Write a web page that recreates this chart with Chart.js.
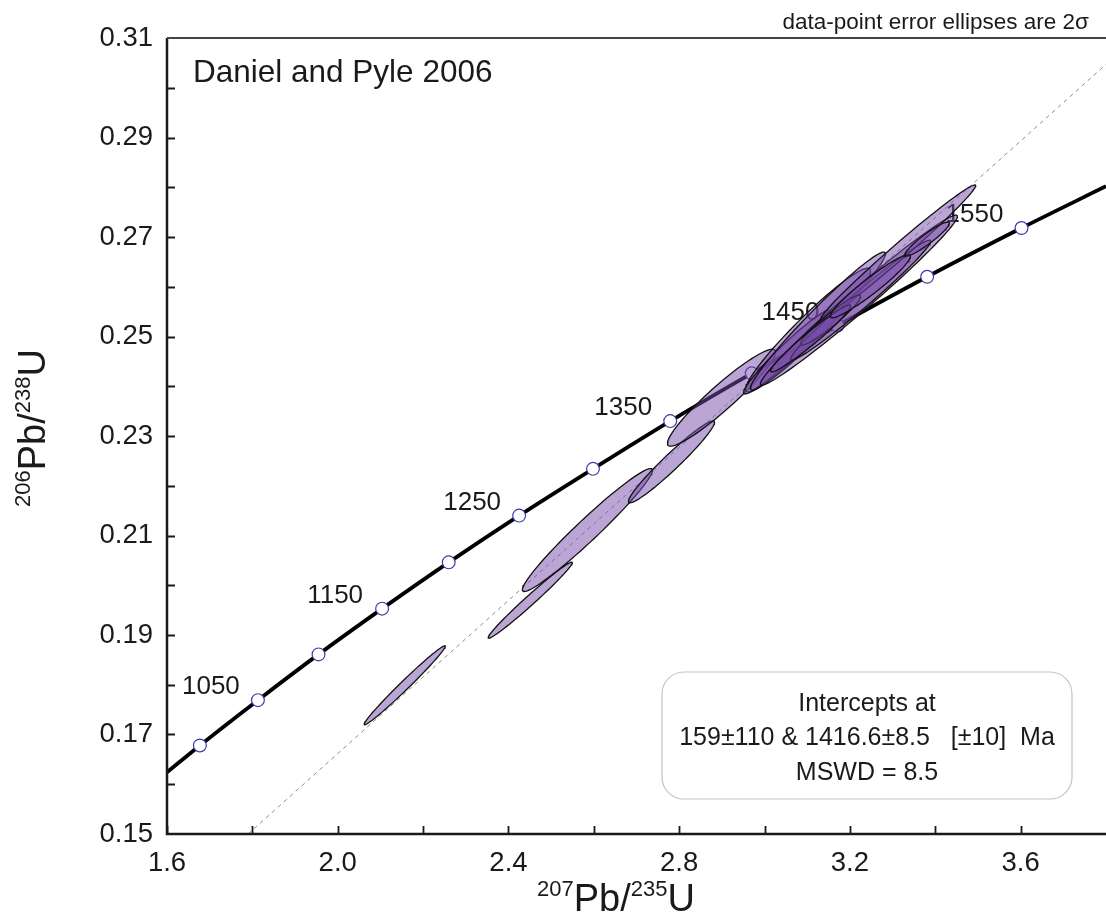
<!DOCTYPE html>
<html><head><meta charset="utf-8">
<script src="https://cdn.jsdelivr.net/npm/chart.js@4.4.1/dist/chart.umd.min.js"></script>
<style>html,body{margin:0;padding:0;background:#fff;overflow:hidden;}canvas{display:block;}</style>
</head><body>
<canvas id="c" width="1106" height="915"></canvas>
<script>
// ---------- data ----------
const xTickValues = [1.6, 2.0, 2.4, 2.8, 3.2, 3.6];
const xTickLabels = ['1.6', '2.0', '2.4', '2.8', '3.2', '3.6'];
const xMinorValues = [1.8, 2.2, 2.6, 3.0, 3.4, 3.8];
const yTickValues = [0.15, 0.17, 0.19, 0.21, 0.23, 0.25, 0.27, 0.29, 0.31];
const yTickLabels = ['0.15', '0.17', '0.19', '0.21', '0.23', '0.25', '0.27', '0.29', '0.31'];
const yMinorValues = [0.16, 0.18, 0.20, 0.22, 0.24, 0.26, 0.28, 0.30];

// concordia curve
const concX = [1.600, 1.677, 1.813, 1.955, 2.104, 2.260, 2.425, 2.598, 2.779, 2.970, 3.171, 3.381, 3.602, 3.800];
const concY = [0.1624, 0.1678, 0.1769, 0.1861, 0.1953, 0.2046, 0.2140, 0.2234, 0.2330, 0.2426, 0.2522, 0.2620, 0.2718, 0.2802];

// age markers on the concordia
const markerAges = [1000, 1050, 1100, 1150, 1200, 1250, 1300, 1350, 1400, 1450, 1500, 1550];
const markerX = [1.677, 1.813, 1.955, 2.104, 2.260, 2.425, 2.598, 2.779, 2.970, 3.171, 3.381, 3.602];
const markerY = [0.1678, 0.1769, 0.1861, 0.1953, 0.2046, 0.2140, 0.2234, 0.2330, 0.2426, 0.2522, 0.2620, 0.2718];
const labelledAges = [1050, 1150, 1250, 1350, 1450, 1550];

// discordia (regression line)
const discX = [1.79, 3.80];
const discY = [0.150, 0.3047];

// data-point error ellipses: centre, 2-sigma half-extents, correlation
const ellCX  = [2.157, 2.451, 2.585, 2.782, 2.899, 3.102, 3.053, 3.125, 3.221, 3.225, 3.313, 3.155, 3.108, 3.248, 3.381];
const ellCY  = [0.1799, 0.1970, 0.2111, 0.2248, 0.2377, 0.2513, 0.2469, 0.2531, 0.2573, 0.2573, 0.2669, 0.2533, 0.2496, 0.2601, 0.2696];
const ellEX  = [0.095, 0.0985, 0.1524, 0.1008, 0.1266, 0.1465, 0.102, 0.1583, 0.2309, 0.1641, 0.1817, 0.0703, 0.0938, 0.0938, 0.052];
const ellEY  = [0.00794, 0.00764, 0.01236, 0.00824, 0.00975, 0.01246, 0.00844, 0.01387, 0.01709, 0.01206, 0.01357, 0.00503, 0.00673, 0.00633, 0.00342];
const ellRho = [0.988, 0.986, 0.971, 0.965, 0.942, 0.957, 0.966, 0.975, 0.985, 0.983, 0.989, 0.95, 0.97, 0.95, 0.93];

const titleText = 'Daniel and Pyle 2006';
const noteText = 'data-point error ellipses are 2σ';
const boxLines = ['Intercepts at', '159±110 & 1416.6±8.5   [±10]  Ma', 'MSWD = 8.5'];

// ---------- chart ----------
const FONT = '"Liberation Sans", Arial, Helvetica, sans-serif';

function ellipsePoints(i) {
  const pts = [];
  const n = 90;
  const s = Math.sqrt(1 - ellRho[i] * ellRho[i]);
  for (let k = 0; k <= n; k++) {
    const t = 2 * Math.PI * k / n;
    pts.push({ x: ellCX[i] + ellEX[i] * Math.cos(t),
               y: ellCY[i] + ellEY[i] * (ellRho[i] * Math.cos(t) + s * Math.sin(t)) });
  }
  return pts;
}

const datasets = [];
datasets.push({ type: 'line', label: 'discordia',
  data: discX.map((x, i) => ({ x, y: discY[i] })),
  borderColor: '#8c8c8c', borderWidth: 1, borderDash: [4, 4], pointRadius: 0, fill: false, order: 100 });
datasets.push({ type: 'line', label: 'concordia',
  data: concX.map((x, i) => ({ x, y: concY[i] })),
  borderColor: '#000', borderWidth: 3.8, pointRadius: 0, cubicInterpolationMode: 'monotone', fill: false, order: 90 });
datasets.push({ type: 'scatter', label: 'ages',
  data: markerX.map((x, i) => ({ x, y: markerY[i] })),
  pointRadius: 6.4, pointBackgroundColor: '#fff', pointBorderColor: '#3c3cae', pointBorderWidth: 1.2, order: 80 });
for (let i = 0; i < ellCX.length; i++) {
  datasets.push({ type: 'line', label: 'ellipse' + i, data: ellipsePoints(i),
    borderColor: '#111', borderWidth: 1.3, backgroundColor: 'rgba(120,76,172,0.5)',
    fill: 'shape', pointRadius: 0, tension: 0, order: 50 - i });
}

function drawRich(ctx, parts, cx, baseY) {
  let w = 0;
  parts.forEach(p => { ctx.font = p.size + 'px ' + FONT; p.w = ctx.measureText(p.t).width; w += p.w; });
  let x = cx - w / 2;
  ctx.textAlign = 'left'; ctx.textBaseline = 'alphabetic';
  parts.forEach(p => { ctx.font = p.size + 'px ' + FONT; ctx.fillText(p.t, x, baseY - (p.up || 0)); x += p.w; });
}

const decor = {
  id: 'decor',
  beforeDatasetsDraw(chart) {
    const { ctx, scales: { x, y } } = chart;
    ctx.save();
    ctx.fillStyle = '#1a1a1a';
    ctx.font = '26px ' + FONT;
    ctx.textAlign = 'center'; ctx.textBaseline = 'middle';
    labelledAges.forEach(a => {
      const i = markerAges.indexOf(a);
      const px = x.getPixelForValue(markerX[i]), py = y.getPixelForValue(markerY[i]);
      ctx.fillText(String(a), px - 47, py - 13);
    });
    ctx.restore();
  },
  afterDraw(chart) {
    const { ctx, chartArea: a, scales: { x, y } } = chart;
    ctx.save();
    // axes
    ctx.strokeStyle = '#1a1a1a'; ctx.lineWidth = 2.5;
    ctx.beginPath();
    ctx.moveTo(a.left, a.top); ctx.lineTo(a.left, a.bottom); ctx.lineTo(a.right, a.bottom);
    ctx.stroke();
    ctx.strokeStyle = '#444'; ctx.lineWidth = 2;
    ctx.beginPath(); ctx.moveTo(a.left, a.top); ctx.lineTo(a.right, a.top); ctx.stroke();
    // inner ticks
    ctx.strokeStyle = '#1a1a1a'; ctx.lineWidth = 1.8;
    ctx.beginPath();
    xTickValues.concat(xMinorValues).forEach(v => {
      const px = Math.round(x.getPixelForValue(v)) + 0.5;
      if (px > a.right - 1) return;
      ctx.moveTo(px, a.bottom); ctx.lineTo(px, a.bottom - 8);
    });
    yTickValues.concat(yMinorValues).forEach(v => {
      const py = Math.round(y.getPixelForValue(v)) + 0.5;
      if (py < a.top + 1 || py > a.bottom - 1) return;
      ctx.moveTo(a.left, py); ctx.lineTo(a.left + 8, py);
    });
    ctx.stroke();

    // title text
    ctx.fillStyle = '#1a1a1a';
    ctx.font = '31.5px ' + FONT; ctx.textAlign = 'left'; ctx.textBaseline = 'alphabetic';
    ctx.fillText(titleText, 193, 82);
    ctx.font = '22.5px ' + FONT; ctx.textAlign = 'right';
    ctx.fillText(noteText, 1089, 29);

    // intercept box
    const bx = 662, by = 672, bw = 410, bh = 127, r = 22;
    ctx.strokeStyle = '#c4c4c4'; ctx.lineWidth = 1.2;
    ctx.fillStyle = '#fff';
    ctx.beginPath();
    ctx.moveTo(bx + r, by); ctx.lineTo(bx + bw - r, by); ctx.arcTo(bx + bw, by, bx + bw, by + r, r);
    ctx.lineTo(bx + bw, by + bh - r); ctx.arcTo(bx + bw, by + bh, bx + bw - r, by + bh, r);
    ctx.lineTo(bx + r, by + bh); ctx.arcTo(bx, by + bh, bx, by + bh - r, r);
    ctx.lineTo(bx, by + r); ctx.arcTo(bx, by, bx + r, by, r); ctx.closePath();
    ctx.fill(); ctx.stroke();
    ctx.fillStyle = '#1a1a1a';
    ctx.font = '25px ' + FONT; ctx.textAlign = 'center'; ctx.textBaseline = 'middle';
    ctx.fillText(boxLines[0], 867, 704);
    ctx.fillText(boxLines[1], 867, 738);
    ctx.fillText(boxLines[2], 867, 773);

    // axis titles
    ctx.fillStyle = '#1a1a1a';
    drawRich(ctx, [{ t: '207', size: 22, up: 15 }, { t: 'Pb/', size: 38 }, { t: '235', size: 22, up: 15 }, { t: 'U', size: 38 }], 616, 911);
    ctx.translate(45, 428); ctx.rotate(-Math.PI / 2);
    drawRich(ctx, [{ t: '206', size: 22, up: 15 }, { t: 'Pb/', size: 38 }, { t: '238', size: 22, up: 15 }, { t: 'U', size: 38 }], 0, 0);
    ctx.restore();
  }
};

new Chart(document.getElementById('c'), {
  data: { datasets },
  options: {
    responsive: false, animation: false, devicePixelRatio: 1,
    layout: { autoPadding: false, padding: { top: 38, left: 0, right: 0, bottom: 0 } },
    plugins: { legend: { display: false }, tooltip: { enabled: false } },
    scales: {
      x: { type: 'linear', min: 1.6, max: 3.8,
        afterBuildTicks: s => { s.ticks = xTickValues.map(v => ({ value: v })); },
        afterFit: s => { s.height = 81; s.paddingLeft = 0; s.paddingRight = 0; },
        ticks: { callback: (v, i) => xTickLabels[i], font: { family: FONT, size: 27.5 }, color: '#1a1a1a', padding: 13, maxRotation: 0, autoSkip: false },
        grid: { display: false, drawTicks: false }, border: { display: false } },
      y: { type: 'linear', min: 0.15, max: 0.31,
        afterBuildTicks: s => { s.ticks = yTickValues.map(v => ({ value: v })); },
        afterFit: s => { s.width = 167; s.paddingTop = 0; s.paddingBottom = 0; },
        ticks: { callback: (v, i) => yTickLabels[i], font: { family: FONT, size: 27.5 }, color: '#1a1a1a', padding: 14, autoSkip: false },
        grid: { display: false, drawTicks: false }, border: { display: false } }
    }
  },
  plugins: [decor]
});
</script>
</body></html>
